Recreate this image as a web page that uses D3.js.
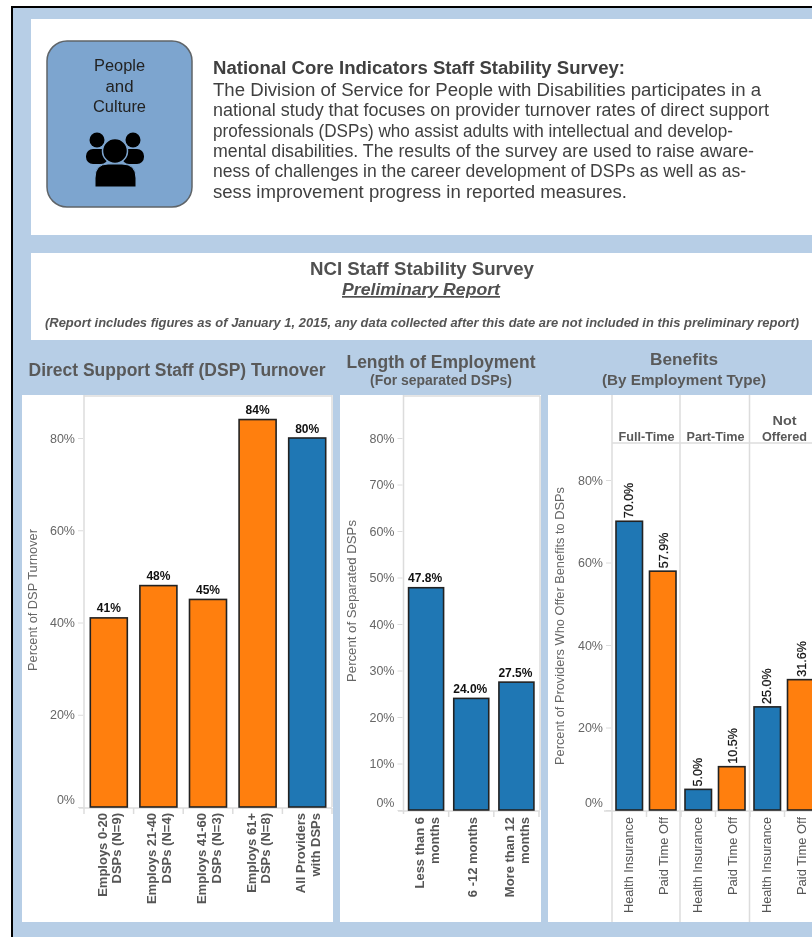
<!DOCTYPE html>
<html><head><meta charset="utf-8">
<script src="https://cdn.jsdelivr.net/npm/d3@7"></script>
<style>
html,body{margin:0;padding:0;background:#fff;overflow:hidden}
svg{display:block;filter:blur(.4px)}
text{font-family:"Liberation Sans",Arial,sans-serif}
</style></head><body><div id="c"></div>
<script>
const introTitle = "National Core Indicators Staff Stability Survey:";
const introLines = ["The Division of Service for People with Disabilities participates in a",
 "national study that focuses on provider turnover rates of direct support",
 "professionals (DSPs) who assist adults with intellectual and develop-",
 "mental disabilities. The results of the survey are used to raise aware-",
 "ness of challenges in the career development of DSPs as well as as-",
 "sess improvement progress in reported measures."];
const badgeLines = ["People","and","Culture"];

const turnoverCats = [["Employs 0-20","DSPs (N=9)"],["Employs 21-40","DSPs (N=4)"],["Employs 41-60","DSPs (N=3)"],["Employs 61+","DSPs (N=8)"],["All Providers","with DSPs"]];
const turnoverVals = [41,48,45,84,80];
const turnoverGroups = ["o","o","o","o","b"];
const turnoverTicks = [0,20,40,60,80];

const lengthCats = [["Less than 6","months"],["6 -12 months"],["More than 12","months"]];
const lengthVals = [47.8,24.0,27.5];
const lengthTicks = [0,10,20,30,40,50,60,70,80];

const benefitCols = [["Full-Time"],["Part-Time"],["Not","Offered"]];
const benefitTypes = ["Health Insurance","Paid Time Off"];
const benefitVals = [[70.0,57.9],[5.0,10.5],[25.0,31.6]];
const benefitTicks = [0,20,40,60,80];

const BLUE="#1f77b4", ORANGE="#ff7f0e", BG="#b7cee6", GRID="#dcdcdc", TXT="#666", HEAD="#595959";

const svg=d3.select("#c").append("svg").attr("width",812).attr("height",937);
svg.append("rect").attr("x",12).attr("y",7).attr("width",810).attr("height",940).attr("fill",BG).attr("stroke","#000").attr("stroke-width",2);

function box(x,y,w,h){svg.append("rect").attr("x",x).attr("y",y).attr("width",w).attr("height",h).attr("fill","#fff");}
function label(x,y,t,o={}){
  const e=svg.append("text").attr("x",x).attr("y",y).text(t)
   .attr("font-size",o.size||12).attr("fill",o.fill||TXT).attr("text-anchor",o.anchor||"middle");
  if(o.weight)e.attr("font-weight",o.weight);
  if(o.style)e.attr("font-style",o.style);
  if(o.deco)e.attr("text-decoration",o.deco);
  if(o.rot)e.attr("transform",`rotate(${o.rot} ${x} ${y})`);
  if(o.len)e.attr("textLength",o.len).attr("lengthAdjust","spacingAndGlyphs");
  return e;
}

box(31,19,790,216); box(31,253,790,87);
box(22,395,311,527); box(340,395,201,527); box(548,395,270,527);

// badge
svg.append("rect").attr("x",47).attr("y",41).attr("width",145).attr("height",166).attr("rx",20)
  .attr("fill","#7da5cf").attr("stroke","#5f6468").attr("stroke-width",1.5);
badgeLines.forEach((t,i)=>label(119.5,71+i*20.5,t,{size:16,fill:"#222",len:[51,28,53][i]}));
const g=svg.append("g").attr("fill","#000");
[[97,140],[133,140]].forEach(p=>g.append("circle").attr("cx",p[0]).attr("cy",p[1]).attr("r",7.5));
g.append("rect").attr("x",86).attr("y",149).attr("width",22).attr("height",15).attr("rx",7);
g.append("rect").attr("x",122).attr("y",149).attr("width",22).attr("height",15).attr("rx",7);
g.append("circle").attr("cx",115).attr("cy",151).attr("r",12.5).attr("stroke","#7da5cf").attr("stroke-width",1.5);
g.append("path").attr("d","M95 187V178Q95 164 108 164H122Q136 164 136 178V187H95Z").attr("stroke","#7da5cf").attr("stroke-width",1);

// intro
label(213,74,introTitle,{size:17.5,weight:"bold",anchor:"start",fill:"#404040",len:412});
const introY=[96,116,137,157,177,198];
const introW=[548,556,520,541,533,414];
introLines.forEach((t,i)=>label(213,introY[i],t,{size:17.5,anchor:"start",fill:"#404040",len:introW[i]}));

// second box
label(422,275,"NCI Staff Stability Survey",{size:19,weight:"bold",fill:"#505050",len:224});
label(421,295,"Preliminary Report",{size:17,weight:"bold",style:"italic",deco:"underline",fill:"#505050",len:158});
label(422,327,"(Report includes figures as of January 1, 2015, any data collected after this date are not included in this preliminary report)",{size:12.5,weight:"bold",style:"italic",fill:"#555",len:754});

// panel titles
label(177,376,"Direct Support Staff (DSP) Turnover",{size:17.5,weight:"bold",fill:HEAD,len:297});
label(441,368,"Length of Employment",{size:17.5,weight:"bold",fill:HEAD,len:189});
label(441,385,"(For separated DSPs)",{size:14,weight:"bold",fill:HEAD,len:142});
label(684,365,"Benefits",{size:16.5,weight:"bold",fill:HEAD,len:68});
label(684,385,"(By Employment Type)",{size:15,weight:"bold",fill:HEAD,len:164});

function yAxis(y,ticks,x0,zeroShift){
  const a=svg.append("g").attr("transform",`translate(${x0},0)`)
    .call(d3.axisLeft(y).tickValues(ticks).tickSize(5).tickPadding(3).tickFormat(d=>d+"%"));
  a.select(".domain").remove();
  a.selectAll("line").attr("stroke",GRID);
  a.selectAll("text").attr("font-size",12.5).attr("font-family",'"Liberation Sans",Arial,sans-serif').attr("fill",TXT)
    .attr("dy",d=>d===0?(-zeroShift+4)+"px":"4px");
}
function vline(x,y1,y2){svg.append("line").attr("x1",x).attr("x2",x).attr("y1",y1).attr("y2",y2).attr("stroke",GRID).attr("stroke-width",1.5);}
function hline(y,x1,x2){svg.append("line").attr("x1",x1).attr("x2",x2).attr("y1",y).attr("y2",y).attr("stroke",GRID).attr("stroke-width",1.5);}
function bars(data,x,w,y,color){
  svg.append("g").selectAll("rect").data(data).join("rect")
    .attr("x",d=>x(d)).attr("width",w)
    .attr("y",d=>y(d.v)).attr("height",d=>y(0)-y(d.v))
    .attr("fill",color).attr("stroke","#222").attr("stroke-width",1.6);
}

// chart 1
{
  const y=d3.scaleLinear().domain([0,80]).range([807,438]);
  const x=d3.scaleBand().domain(d3.range(5)).range([84,332]).paddingInner(0);
  const bw=37, data=turnoverVals.map((v,i)=>({i,v,g:turnoverGroups[i]}));
  vline(84,395,814); vline(332,395,807); hline(396,84,332); hline(808,79,332);
  yAxis(y,turnoverTicks,83,8);
  bars(data,d=>x(d.i)+(x.step()-bw)/2,bw,y,d=>d.g==="o"?ORANGE:BLUE);
  data.forEach(d=>{
    label(x(d.i)+x.step()/2,y(d.v)-5.5,d.v+"%",{size:12,weight:"bold",fill:"#111"});
    vline(x(d.i)+x.step(),808,814);
    turnoverCats[d.i].forEach((t,k)=>{
      label(x(d.i)+x.step()/2-2+k*14.5,813,t,{size:13,anchor:"end",rot:-90,weight:"bold",fill:"#555"});
    });
  });
  label(37,600,"Percent of DSP Turnover",{size:12.5,rot:-90,len:142});
}
// chart 2
{
  const y=d3.scaleLinear().domain([0,80]).range([810,438]);
  const x=d3.scaleBand().domain(d3.range(3)).range([403.5,539]);
  const bw=35, data=lengthVals.map((v,i)=>({i,v}));
  vline(403.5,395,814); vline(540,396,810); hline(396,403.5,540); hline(811,398,540);
  yAxis(y,lengthTicks,402.5,8);
  bars(data,d=>x(d.i)+(x.step()-bw)/2,bw,y,BLUE);
  data.forEach(d=>{
    label(x(d.i)+x.step()/2-1,y(d.v)-5.5,d.v.toFixed(1)+"%",{size:12,weight:"bold",fill:"#111"});
    vline(x(d.i)+x.step(),811,817);
    const ls=lengthCats[d.i];
    ls.forEach((t,k)=>{
      const cx=x(d.i)+x.step()/2+(ls.length===2?-8+k*15.5:0);
      label(cx+5.5,817,t,{size:13,anchor:"end",rot:-90,weight:"bold",fill:"#555"});
    });
  });
  label(356,601,"Percent of Separated DSPs",{size:12.5,rot:-90,len:162});
}
// chart 3
{
  const y=d3.scaleLinear().domain([0,80]).range([810,480]);
  const col=d3.scaleBand().domain(d3.range(3)).range([612,819]);
  const x=d3.scaleBand().domain(d3.range(2)).range([0,col.step()]);
  const bw=26.5;
  [612,680,749.5].forEach(c=>vline(c,395,922));
  hline(443,612,812); hline(811,604,812);
  yAxis(y,benefitTicks,611,8);
  const data=benefitVals.flatMap((r,c)=>r.map((v,k)=>({c,k,v})));
  bars(data,d=>col(d.c)+x(d.k)+(x.step()-bw)/2+(d.k?-1:0),bw,y,d=>d.k?ORANGE:BLUE);
  const typeLen=[96,78];
  data.forEach(d=>{
    const cx=col(d.c)+x(d.k)+x.step()/2;
    label(cx+4,y(d.v)-3,d.v.toFixed(1)+"%",{size:12.5,anchor:"start",rot:-90,fill:"#111"}).attr("stroke","#111").attr("stroke-width",.25);
    label(cx+4,817,benefitTypes[d.k],{size:13.5,anchor:"end",rot:-90,fill:"#555",len:typeLen[d.k]});
    if(d.k===0) vline(col(d.c)+x.step(),811,817);
    if(d.k===1) vline(col(d.c)+col.step(),811,817);
  });
  const headLen={"Full-Time":56,"Part-Time":58,"Not":24,"Offered":45};
  benefitCols.forEach((ls,c)=>ls.forEach((t,k)=>{
    label(col(c)+col.step()/2,440.5-(ls.length-1-k)*16,t,{size:12.5,weight:"bold",fill:HEAD,len:headLen[t]});
  }));
  label(564,626,"Percent of Providers Who Offer Benefits to DSPs",{size:12.5,rot:-90,len:278});
}
</script></body></html>
